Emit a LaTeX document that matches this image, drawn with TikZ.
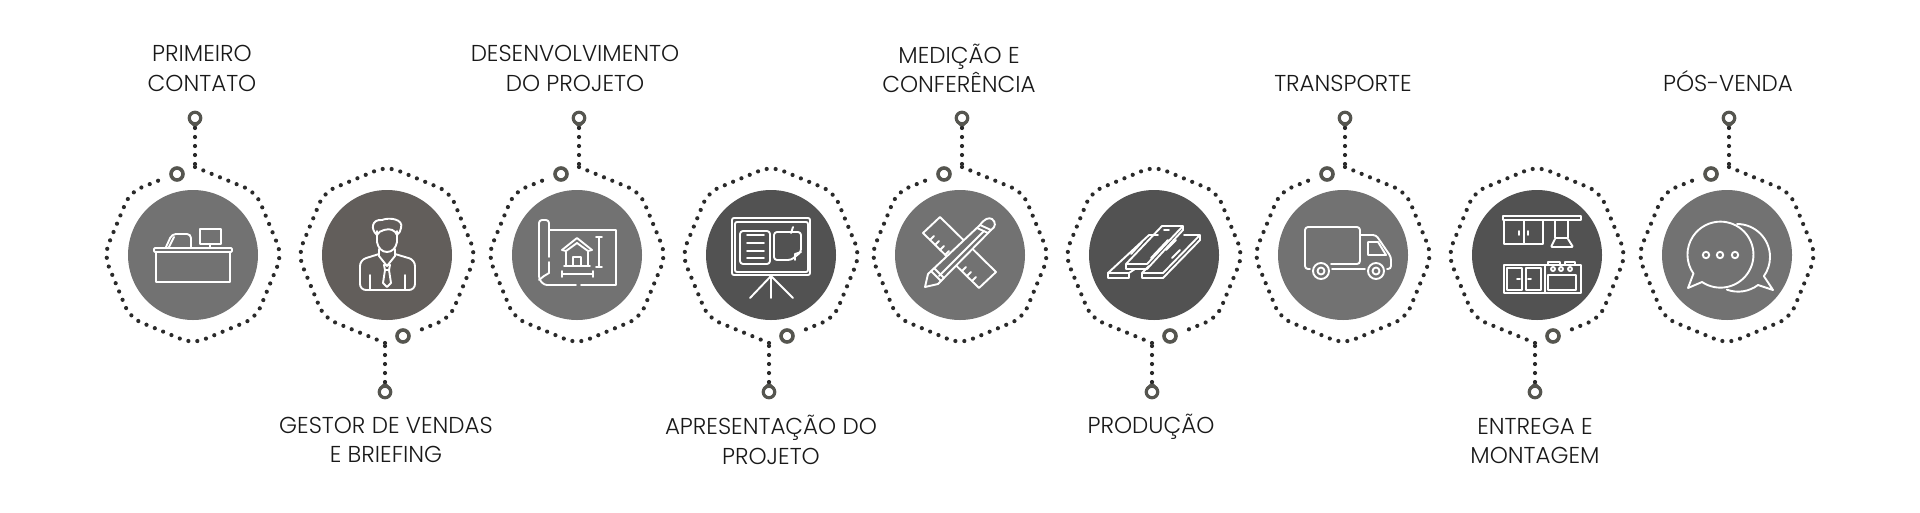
\documentclass[tikz,border=0pt]{standalone}
\usepackage{fontspec}
\setmainfont{Poppins Light}
\definecolor{discmid}{HTML}{727272}
\definecolor{discbrown}{HTML}{625E5B}
\definecolor{discdark}{HTML}{525252}
\definecolor{markcol}{HTML}{55554F}
\definecolor{dotcol}{HTML}{2A2A2A}
\tikzset{
  ringdots/.style={draw=dotcol, line width=4.2pt, line cap=round, rounded corners=12pt, dash pattern=on 0pt off 9pt},
  disc/.style={circle, minimum size=130pt, inner sep=0pt},
  ringmark/.style={circle, draw=markcol, fill=white, line width=3.6pt, minimum size=12pt, inner sep=0pt},
  pinmark/.style={circle, draw=markcol, fill=white, line width=3.2pt, minimum size=11.5pt, inner sep=0pt},
  steplabel/.style={align=center, text=black!90, font=\fontsize{23}{29.5}\selectfont},
  iconline/.style={draw=white, line width=1.9pt, line join=round, line cap=round},
}

\begin{document}
\begin{tikzpicture}[x=1pt, y=-1pt]
  \useasboundingbox (0,0) rectangle (1920,512);
  % steps with the pin above
  \foreach \n/\cx/\col in {A/193/discmid, C/577/discmid, E/960/discmid, G/1343/discmid, I/1727/discmid} {
    \node[disc, fill=\col] (disc\n) at (\cx,255) {};
    \draw[ringdots] (\cx+2,167) -- (\cx+62.9,192.1) -- (\cx+89,255) -- (\cx+62.9,317.9) -- (\cx,344)
      -- (\cx-62.9,317.9) -- (\cx-89,255) -- (\cx-62.9,192.1) -- (\cx-27,177.5);
    \node[ringmark] (mark\n) at (\cx-16,174) {};
    \node[pinmark] (pin\n) at (\cx+2,118) {};
    \coordinate (tip\n) at (\cx+2,128);
    \coordinate (foot\n) at (\cx+2,167);
    \fill[markcol] (pin\n.-145) -- (tip\n) -- (pin\n.-35) -- cycle;
    \draw[ringdots] (tip\n) -- (foot\n);
  }
  % steps with the pin below
  \foreach \n/\cx/\col in {B/387/discbrown, D/771/discdark, F/1154/discdark, H/1537/discdark} {
    \node[disc, fill=\col] (disc\n) at (\cx,255) {};
    \draw[ringdots] (\cx-2,343) -- (\cx-62.9,317.9) -- (\cx-89,255) -- (\cx-62.9,192.1) -- (\cx,166)
      -- (\cx+62.9,192.1) -- (\cx+89,255) -- (\cx+62.9,317.9) -- (\cx+27,332.5);
    \node[ringmark] (mark\n) at (\cx+16,336) {};
    \node[pinmark] (pin\n) at (\cx-2,392) {};
    \coordinate (tip\n) at (\cx-2,382);
    \coordinate (foot\n) at (\cx-2,343);
    \fill[markcol] (pin\n.145) -- (tip\n) -- (pin\n.35) -- cycle;
    \draw[ringdots] (tip\n) -- (foot\n);
  }

  % labels
  \node[steplabel] (labelA) at (202,68.5) {PRIMEIRO\\CONTATO};
  \node[steplabel] (labelB) at (386,440) {GESTOR DE VENDAS\\E BRIEFING};
  \node[steplabel] (labelC) at (575,68.5) {DESENVOLVIMENTO\\DO PROJETO};
  \node[steplabel] (labelD) at (771,440) {APRESENTAÇÃO DO\\PROJETO};
  \node[steplabel] (labelE) at (959,68.5) {MEDIÇÃO E\\CONFERÊNCIA};
  \node[steplabel] (labelF) at (1151,427) {PRODUÇÃO};
  \node[steplabel] (labelG) at (1343,83) {TRANSPORTE};
  \node[steplabel] (labelH) at (1535,441) {ENTREGA E\\MONTAGEM};
  \node[steplabel] (labelI) at (1728,81) {PÓS-VENDA};

  % desk
  \begin{scope}[shift={(193,255)}, iconline]
    \draw[rounded corners=1pt] (-39,-7) rectangle (39,-3);
    \draw (-37,-3) rectangle (37,27);
    \draw[rounded corners=4pt] (-27,-8) -- (-21,-21) -- (-2,-21) -- (-2,-8);
    \draw (-24,-8) -- (-19,-18);
    \draw (7,-26) rectangle (28,-11);
    \draw (17,-11) -- (17,-7);
  \end{scope}

  % person
  \begin{scope}[shift={(387,255)}, iconline]
    \draw (-10,-24) -- (-10,-13) .. controls (-9,-7) and (-5,-3) .. (0,-3) .. controls (5,-3) and (9,-7) .. (10,-13) -- (10,-24);
    \draw (-10,-20) .. controls (-17,-26) and (-15,-36) .. (-5,-35) .. controls (2,-38) and (17,-36) .. (14,-27) .. controls (14,-24) and (12,-22) .. (10,-20) .. controls (8,-25) and (3,-27) .. (-3,-25) .. controls (-6,-24) and (-9,-23) .. (-10,-20);
    \draw (-8,-6) -- (-8,1) -- (0,11) -- (8,1) -- (8,-6);
    \draw[rounded corners=6pt] (-8,-1) -- (-27,5) -- (-27,35) -- (28,35) -- (28,5) -- (8,-1);
    \draw (-17,20) -- (-17,35) (18,20) -- (18,35);
    \draw (-3,10) -- (3,10) -- (2,15) -- (-2,15) -- cycle;
    \draw (-2,15) -- (-4,28) -- (0,32) -- (4,28) -- (2,15);
  \end{scope}

  % blueprint
  \begin{scope}[shift={(577,255)}, iconline]
    \draw[rounded corners=3pt] (-28,2) -- (-28,-35) -- (-38,-35) -- (-38,24) -- (-33,30) -- (-1,30);
    \draw (4,30) -- (39,30) -- (39,-25) -- (-28,-25);
    \draw (-28,7) -- (-28,18) -- (-33,21) -- (-38,25);
    \draw (-15,-5) -- (0,-17) -- (15,-5) (-11,-4) -- (0,-12) -- (11,-4);
    \draw (-15,-5) -- (-11,-4) (15,-5) -- (11,-4);
    \draw (-11,-3) -- (-11,10) (11,-3) -- (11,10) (-13,11) -- (13,11);
    \draw (-4,10) -- (-4,2) -- (4,2) -- (4,10);
    \draw (22,-18) -- (22,12) (19,-18) -- (25,-18) (19,12) -- (25,12);
    \draw (-15,19) -- (16,19) (-15,16) -- (-15,22) (16,16) -- (16,22);
  \end{scope}

  % board
  \begin{scope}[shift={(771,255)}, iconline]
    \draw[rounded corners=2pt] (-39,-37) rectangle (39,20);
    \draw[rounded corners=2pt] (-36,-33) rectangle (37,17);
    \draw[rounded corners=3pt] (-31,-24) rectangle (-1,9);
    \draw (-24,-20) -- (-7,-20) (-24,-12) -- (-7,-12) (-24,-4) -- (-7,-4) (-24,3) -- (-7,3);
    \draw[rounded corners=3pt] (3,-23) -- (30,-23) -- (30,-3) -- (20,5) -- (3,5) -- cycle;
    \draw (24,5) -- (24,-1) -- (30,-3);
    \draw (20,-22) -- (22,-28);
    \draw (0,21) -- (-21,43) (0,21) -- (0,43) (0,21) -- (22,43);
  \end{scope}

  % ruler and pencil
  \begin{scope}[shift={(960,255)}, iconline]
    \draw (-20,-38) -- (-37,-22) -- (19,33) -- (36,17) -- cycle;
    \draw (-30,-15) -- (-26,-19) (-25,-10) -- (-21,-14) (-20,-5) -- (-16,-9) (-15,0) -- (-11,-4);
    \draw (2,16) -- (6,12) (7,21) -- (11,17) (12,26) -- (16,22);
    \draw[fill=discmid] (-35,32) -- (-32,19) -- (20,-30) .. controls (24,-36) and (29,-38) .. (32,-36) .. controls (36,-33) and (36,-28) .. (31,-25) -- (-22,29) -- cycle;
    \draw (-29,16) -- (-19,26) (-26,13) -- (-16,23);
    \draw (17,-27) -- (28,-22) (20,-30) -- (31,-25);
    \draw (-21,21) -- (24,-24);
  \end{scope}

  % planks
  \begin{scope}[shift={(1154,255)}, iconline]
    \draw (-46,18) -- (-5,-20) -- (4,-20);
    \draw (-46,18) -- (-25,18) -- (-25,23) -- (-46,23) -- cycle;
    \draw (-25,18) -- (-19,14);
    \draw (46,-20) -- (30,-20) (46,-20) -- (46,-15) -- (9,23) -- (-12,23) -- (-12,18) -- (9,18) -- (46,-20);
    \draw (-12,18) -- (-5,11);
    \draw (8,-29) -- (29,-29) -- (29,-25) -- (-7,14) -- (-28,14) -- (-28,9) -- (-7,9) -- (29,-29);
    \draw (-28,9) -- (8,-29);
    \draw (-3,3) -- (14,-15) (10,-25) -- (15,-25) (12,-5) -- (22,-15);
    \draw (-23,-1) -- (-12,-13) (18,3) -- (26,-5);
  \end{scope}

  % truck
  \begin{scope}[shift={(1343,255)}, iconline]
    \draw[rounded corners=3pt] (-11,14) -- (22,14) (-33,14) -- (-38,14) -- (-38,-28) -- (17,-28) -- (17,9) -- (-12,9);
    \draw[rounded corners=3pt] (17,-20) -- (33,-20) -- (48,2) -- (48,14) -- (44,14);
    \draw (25,-13) -- (35,-13) -- (43,0) -- (25,0) -- cycle;
    \draw (-22,16) circle[radius=8pt] (-22,16) circle[radius=3.5pt];
    \draw (33,16) circle[radius=8pt] (33,16) circle[radius=3.5pt];
  \end{scope}

  % kitchen
  \begin{scope}[shift={(1537,255)}, iconline]
    \draw (-34,-39) rectangle (44,-35);
    \draw (-33,-35) rectangle (6,-11);
    \draw (-13,-35) -- (-13,-11) (-18,-24) -- (-18,-20) (-9,-24) -- (-9,-20);
    \draw (18,-34) -- (18,-17) (31,-34) -- (31,-17) (18,-17) -- (31,-17);
    \draw[rounded corners=1pt] (18,-16) -- (14,-8) -- (36,-8) -- (31,-16);
    \draw (-33,10) rectangle (44,38);
    \draw (-30,13) rectangle (-15,35) (-11,13) rectangle (4,35);
    \draw (8,10) -- (8,38);
    \draw (-17,24) -- (-20,24) (-9,24) -- (-6,24);
    \draw (11,20) rectangle (39,35);
    \draw (16,14) circle[radius=2pt] (24,14) circle[radius=2pt] (33,14) circle[radius=2pt];
    \draw (11,10) -- (11,7) -- (23,7) -- (23,10) (28,10) -- (28,7) -- (38,7) -- (38,10);
  \end{scope}

  % chat bubbles
  \begin{scope}[shift={(1727,255)}, iconline]
    \draw (10,-31) arc[start angle=90, end angle=-35.5, radius=33pt] -- (46,35) -- (31,30) arc[start angle=-53, end angle=-110, radius=33pt];
    \draw[fill=discmid] (-25,27) arc[start angle=236, end angle=575, radius=33pt] -- (-39,33) -- cycle;
    \draw (-21,0) circle[radius=3.2pt] (-7,0) circle[radius=3.2pt] (8,0) circle[radius=3.2pt];
  \end{scope}
\end{tikzpicture}
\end{document}
